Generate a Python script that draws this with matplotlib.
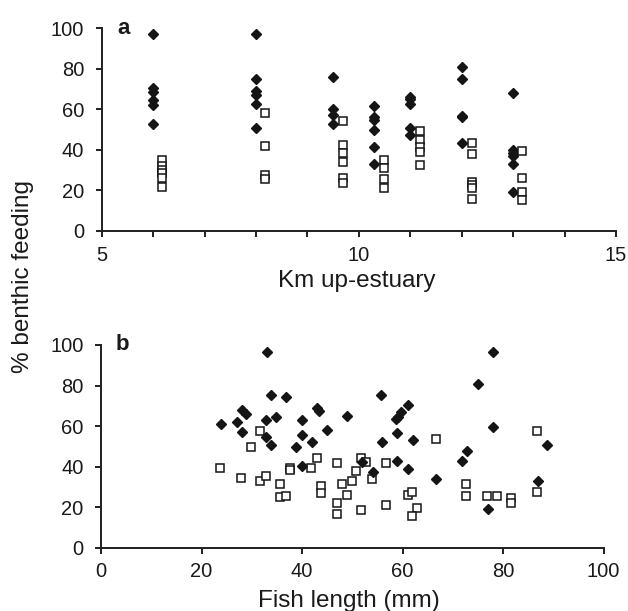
import matplotlib
matplotlib.use("Agg")
import matplotlib.pyplot as plt

plt.rcParams['font.family'] = ['Liberation Sans', 'DejaVu Sans']

# Panel a: km up-estuary vs % benthic feeding
a_dia_x = [6]*6 + [8]*6 + [9.5]*4 + [10.3]*6 + [11]*5 + [12]*5 + [13]*6
a_dia_y = [97, 70.6, 68.6, 64.5, 62, 52.7,
           97, 75, 69, 67, 62.6, 50.6,
           76, 60, 57, 52.7,
           61.6, 56.3, 55, 49.8, 41.5, 33,
           66, 65, 62.6, 51, 47.3,
           81, 75.2, 56.7, 56, 43.2,
           68, 40, 38.6, 37, 33.3, 19]
a_sq_x = [6.18]*6 + [8.18]*4 + [9.69]*6 + [10.48]*4 + [11.18]*5 + [12.2]*6 + [13.17]*4
a_sq_y = [35, 32.2, 30, 28.4, 26, 21.8,
          58, 42, 27.6, 25.6,
          54.2, 42.4, 38.6, 33.8, 26, 23.5,
          35, 31.2, 25.6, 21,
          49.3, 44.8, 41.5, 38.8, 32.5,
          43.5, 37.9, 24.3, 22.7, 21.3, 15.6,
          39.4, 26, 19.1, 15.3]

# Panel b: fish length vs % benthic feeding
b_dia_x = [33.0, 23.8, 27.0, 28.0, 28.8, 28.0, 32.9, 33.9, 36.9, 34.9, 32.9, 33.9,
           40.0, 40.0, 41.9, 38.9, 42.9, 43.4, 44.9, 48.9, 40.0, 52.0, 54.1,
           78.0, 75.1, 55.8, 61.1, 59.8, 59.1, 58.8, 78.0, 58.9, 62.1, 55.9,
           88.8, 72.9, 71.9, 58.9, 61.1, 66.7, 86.9, 77.0]
b_dia_y = [96.4, 60.9, 61.9, 67.9, 65.8, 56.9, 63.0, 75.3, 74.5, 64.3, 54.8, 50.7,
           63.0, 55.6, 52.3, 49.8, 68.8, 67.6, 58.1, 65.0, 40.5, 42.1, 37.5,
           96.4, 80.8, 75.3, 70.4, 67.1, 64.6, 63.3, 59.4, 56.4, 53.1, 52.3,
           50.7, 47.7, 42.8, 42.8, 38.8, 33.9, 33.1, 18.9]
b_sq_x = [23.7, 31.6, 29.8, 27.8, 31.6, 32.9, 35.7, 35.7, 36.8, 37.6, 37.6, 41.7,
          42.9, 43.7, 43.7, 46.9, 47.9, 46.9, 46.9, 48.9, 49.9, 50.8, 51.7, 52.7,
          51.7, 53.9, 56.8, 56.8, 61.0, 61.9, 62.9, 61.9, 66.7, 72.7, 72.7,
          76.9, 78.8, 81.6, 81.6, 86.8, 86.8]
b_sq_y = [39.2, 57.6, 49.5, 34.5, 32.9, 35.4, 31.3, 25.2, 25.7, 39.2, 38.4, 39.2,
          44.1, 30.6, 26.8, 41.6, 31.4, 21.9, 16.5, 26.0, 32.9, 37.8, 44.1, 42.4,
          18.6, 33.9, 41.6, 21.1, 26.0, 27.3, 19.4, 15.6, 53.5, 31.4, 25.7,
          25.7, 25.7, 24.5, 22.0, 57.6, 27.3]

a_xticks = list(range(5, 16))
a_xlabels = ['5', '', '', '', '', '10', '', '', '', '', '15']
b_xticks = [0, 20, 40, 60, 80, 100]
yticks = [0, 20, 40, 60, 80, 100]

W, H = 628, 611
fig = plt.figure(figsize=(W/100, H/100), dpi=100)

axa = fig.add_axes([101.7/W, 1-231/H, (616-101.7)/W, (231-28.3)/H])
axb = fig.add_axes([101/W, 1-547.7/H, (603.5-101)/W, (547.7-345)/H])

dk = '#1f1f1f'
txt = '#1a1a1a'
for ax in (axa, axb):
    for s in ('top', 'right'):
        ax.spines[s].set_visible(False)
    for s in ('left', 'bottom'):
        ax.spines[s].set_linewidth(1.4)
        ax.spines[s].set_color(dk)
    ax.tick_params(direction='out', length=4, width=1.4, color=dk,
                   labelsize=14.5, labelcolor=txt)
    ax.tick_params(axis='y', pad=8.5)
    ax.tick_params(axis='x', pad=6.5)
    ax.set_ylim(0, 100)
    ax.set_yticks(yticks)
    ax.set_yticklabels([str(v) for v in yticks])

axa.set_xlim(5, 15)
axa.set_xticks(a_xticks)
axa.set_xticklabels(a_xlabels)
axb.set_xlim(0, 100)
axb.set_xticks(b_xticks)
axb.set_xticklabels([str(v) for v in b_xticks])

axa.plot(a_dia_x, a_dia_y, 'D', ms=5.4, color='#151515', mec='#151515', clip_on=False)
axa.plot(a_sq_x, a_sq_y, 's', ms=6.3, mfc='white', mec='#151515', mew=1.1, clip_on=False)
axb.plot(b_dia_x, b_dia_y, 'D', ms=5.4, color='#151515', mec='#151515', clip_on=False, zorder=3)
axb.plot(b_sq_x, b_sq_y, 's', ms=6.3, mfc='white', mec='#151515', mew=1.1, clip_on=False, zorder=2)

fig.text(357/W, 1-287/H, 'Km up-estuary', ha='center', va='baseline',
         fontsize=17.5, color=txt)
fig.text(349/W, 1-606.5/H, 'Fish length (mm)', ha='center', va='baseline',
         fontsize=17.5, color=txt)
fig.text(23/W, 1-276.5/H, '% benthic feeding', rotation=90, ha='center', va='center',
         fontsize=17.5, color=txt)

axa.text(0.03, 1.0, 'a', transform=axa.transAxes, fontsize=16, fontweight='bold',
         ha='left', va='center', color=txt)
axb.text(0.03, 1.0, 'b', transform=axb.transAxes, fontsize=16, fontweight='bold',
         ha='left', va='center', color=txt)

fig.savefig('out.png', dpi=100)
